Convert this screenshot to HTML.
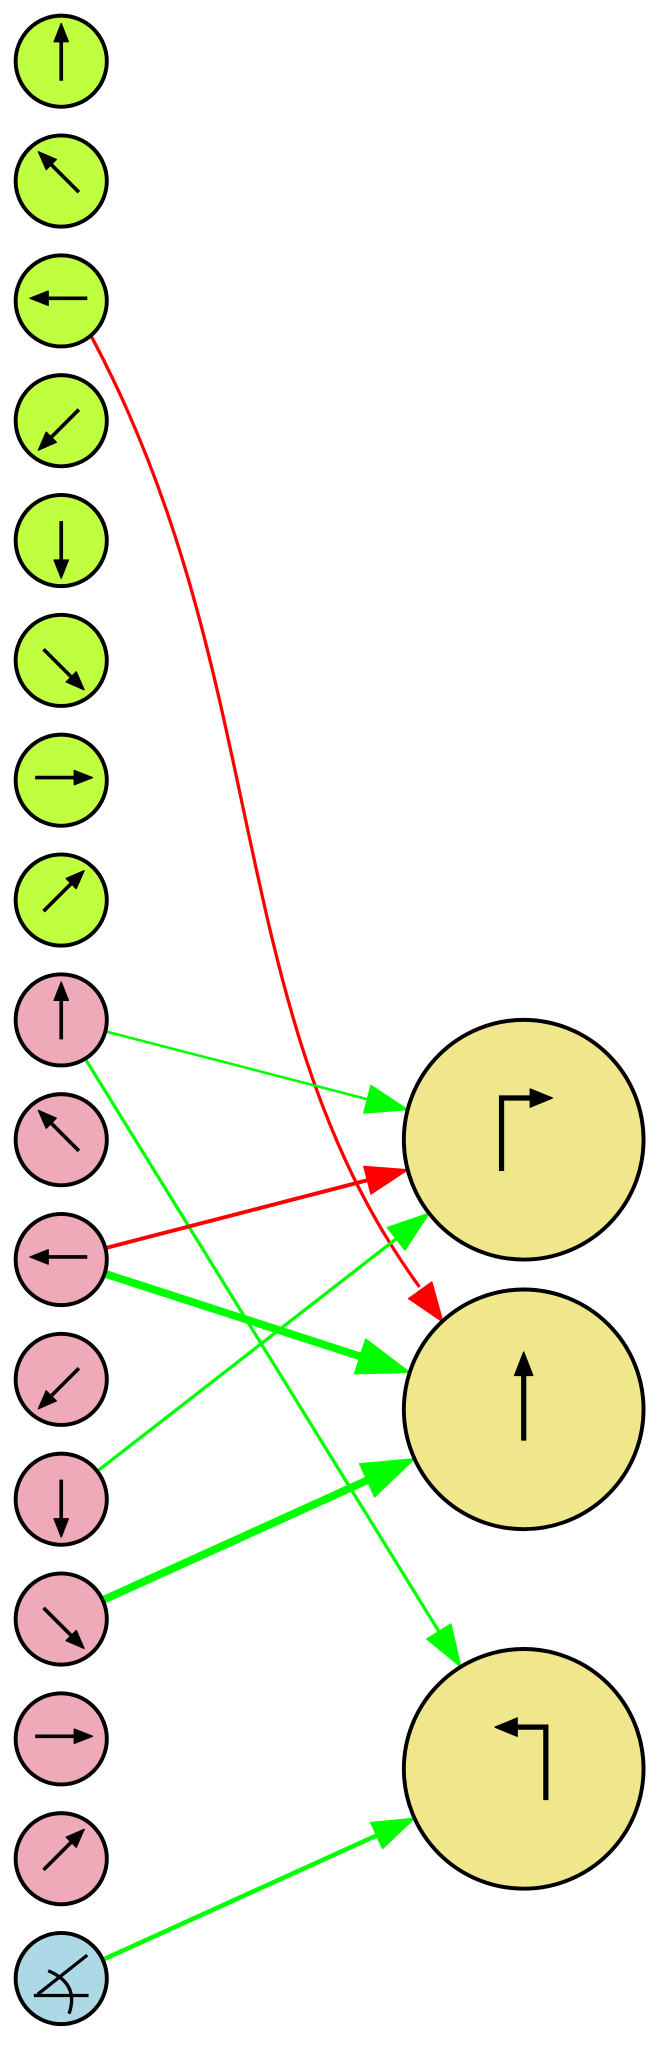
<!DOCTYPE html>
<html><head><meta charset="utf-8"><style>
html,body{margin:0;padding:0;background:#fff;}
svg{display:block;}
</style></head><body>
<svg id="g" width="667" height="2058" viewBox="0 0 512 1580" preserveAspectRatio="none" xmlns="http://www.w3.org/2000/svg"></svg>
<script>
const smallDirs = ['up','up-left','left','down-left','down','down-right','right','up-right','up','up-left','left','down-left','down','down-right','right','up-right','angle'];
const smallColors = ['#c0ff40','#c0ff40','#c0ff40','#c0ff40','#c0ff40','#c0ff40','#c0ff40','#c0ff40','#eeaab8','#eeaab8','#eeaab8','#eeaab8','#eeaab8','#eeaab8','#eeaab8','#eeaab8','#add8e6'];
const bigIcons = ['turn-right','straight','turn-left'];
const bigY = [875, 1082, 1358];
const edgeFrom = [8, 8, 10, 10, 12, 13, 16];
const edgeTo = [0, 2, 0, 1, 0, 1, 2];
const edgeColor = ['#00ff00','#00ff00','#ff0000','#00ff00','#00ff00','#00ff00','#00ff00'];
const edgeWidth = [2, 2.5, 3, 6, 2.5, 6, 3.5];

const svg = document.getElementById('g');
const NS = 'http://www.w3.org/2000/svg';
function mk(tag, attrs, parent){const e=document.createElementNS(NS,tag);for(const k in attrs)e.setAttribute(k,attrs[k]);(parent||svg).appendChild(e);return e;}
const SX=47, SR=35, SY0=47, SSTEP=92, BX=402, BR=92;
function sy(i){return SY0+i*SSTEP;}
function head(tx,ty,dx,dy,len,w,color,parent){
  const L=Math.hypot(dx,dy);const ux=dx/L,uy=dy/L;
  const bx=tx-ux*len,by=ty-uy*len;
  return mk('polygon',{points:`${tx},${ty} ${bx-uy*w},${by+ux*w} ${bx+uy*w},${by-ux*w}`,fill:color,stroke:color,'stroke-width':1,'stroke-linejoin':'round'},parent);
}
const dirVec={'up':[0,-1],'down':[0,1],'left':[-1,0],'right':[1,0],'up-left':[-0.707,-0.707],'up-right':[0.707,-0.707],'down-left':[-0.707,0.707],'down-right':[0.707,0.707]};

const eg = mk('g',{});


const rc = mk('g',{},eg);


mk('path',{d:'M70,258 C210,520 170,780 322,988',fill:'none',stroke:'#ff0000','stroke-width':2.5},rc);
head(340,1015,150,210,30,11,'#ff0000',rc);

for(let i=0;i<edgeFrom.length;i++){
  const x1=SX,y1=sy(edgeFrom[i]),x2=BX,y2=bigY[edgeTo[i]];
  const dx=x2-x1,dy=y2-y1,L=Math.hypot(dx,dy),ux=dx/L,uy=dy/L;
  const sx=x1+ux*SR,syy=y1+uy*SR,tx=x2-ux*BR,ty=y2-uy*BR;
  const w=edgeWidth[i];const hl=w>4?40:32, hw=w>4?14:11;
  const g=mk('g',{},eg);
  
  
  mk('line',{x1:sx,y1:syy,x2:tx-ux*hl*0.9,y2:ty-uy*hl*0.9,stroke:edgeColor[i],'stroke-width':w},g);
  head(tx,ty,dx,dy,hl,hw,edgeColor[i],g);
}

for(let i=0;i<smallDirs.length;i++){
  const g=mk('g',{});
  
  
  const cy=sy(i);
  mk('circle',{cx:SX,cy:cy,r:SR,fill:smallColors[i],stroke:'#000','stroke-width':3},g);
  if(smallDirs[i]==='angle'){
    mk('path',{d:`M${SX-21},${cy+13} L${SX+21},${cy+13} M${SX-18},${cy+12} L${SX+20},${cy-18} M${SX-10},${cy-6} Q${SX+14},${cy+4} ${SX+6},${cy+27}`,fill:'none',stroke:'#000','stroke-width':2.5},g);
  } else {
    const [vx,vy]=dirVec[smallDirs[i]];
    const oy = vy===0?-2:(vy<0?-7:7);
    const ox = vx===0?0:(vx<0?-2:2);
    const x1=SX-vx*22+ox,y1=cy-vy*22+oy,x2=SX+vx*22+ox,y2=cy+vy*22+oy;
    mk('line',{x1:x1,y1:y1,x2:x2-vx*8,y2:y2-vy*8,stroke:'#000','stroke-width':2.8},g);
    head(x2,y2,vx,vy,14,5.5,'#000',g);
  }
}

for(let i=0;i<bigIcons.length;i++){
  const g=mk('g',{});
  
  
  const cy=bigY[i];
  mk('circle',{cx:BX,cy:cy,r:BR,fill:'#f0e68c',stroke:'#000','stroke-width':3},g);
  if(bigIcons[i]==='turn-right'){
    mk('path',{d:`M${BX-17},${cy+24} L${BX-17},${cy-32} L${BX+8},${cy-32}`,fill:'none',stroke:'#000','stroke-width':4},g);
    head(BX+22,cy-32,1,0,17,7,'#000',g);
  } else if(bigIcons[i]==='straight'){
    mk('line',{x1:BX,y1:cy+24,x2:BX,y2:cy-28,stroke:'#000','stroke-width':4},g);
    head(BX,cy-44,0,-1,18,7,'#000',g);
  } else {
    mk('path',{d:`M${BX+17},${cy+24} L${BX+17},${cy-32} L${BX-8},${cy-32}`,fill:'none',stroke:'#000','stroke-width':4},g);
    head(BX-22,cy-32,-1,0,17,7,'#000',g);
  }
}
</script>
</body></html>
